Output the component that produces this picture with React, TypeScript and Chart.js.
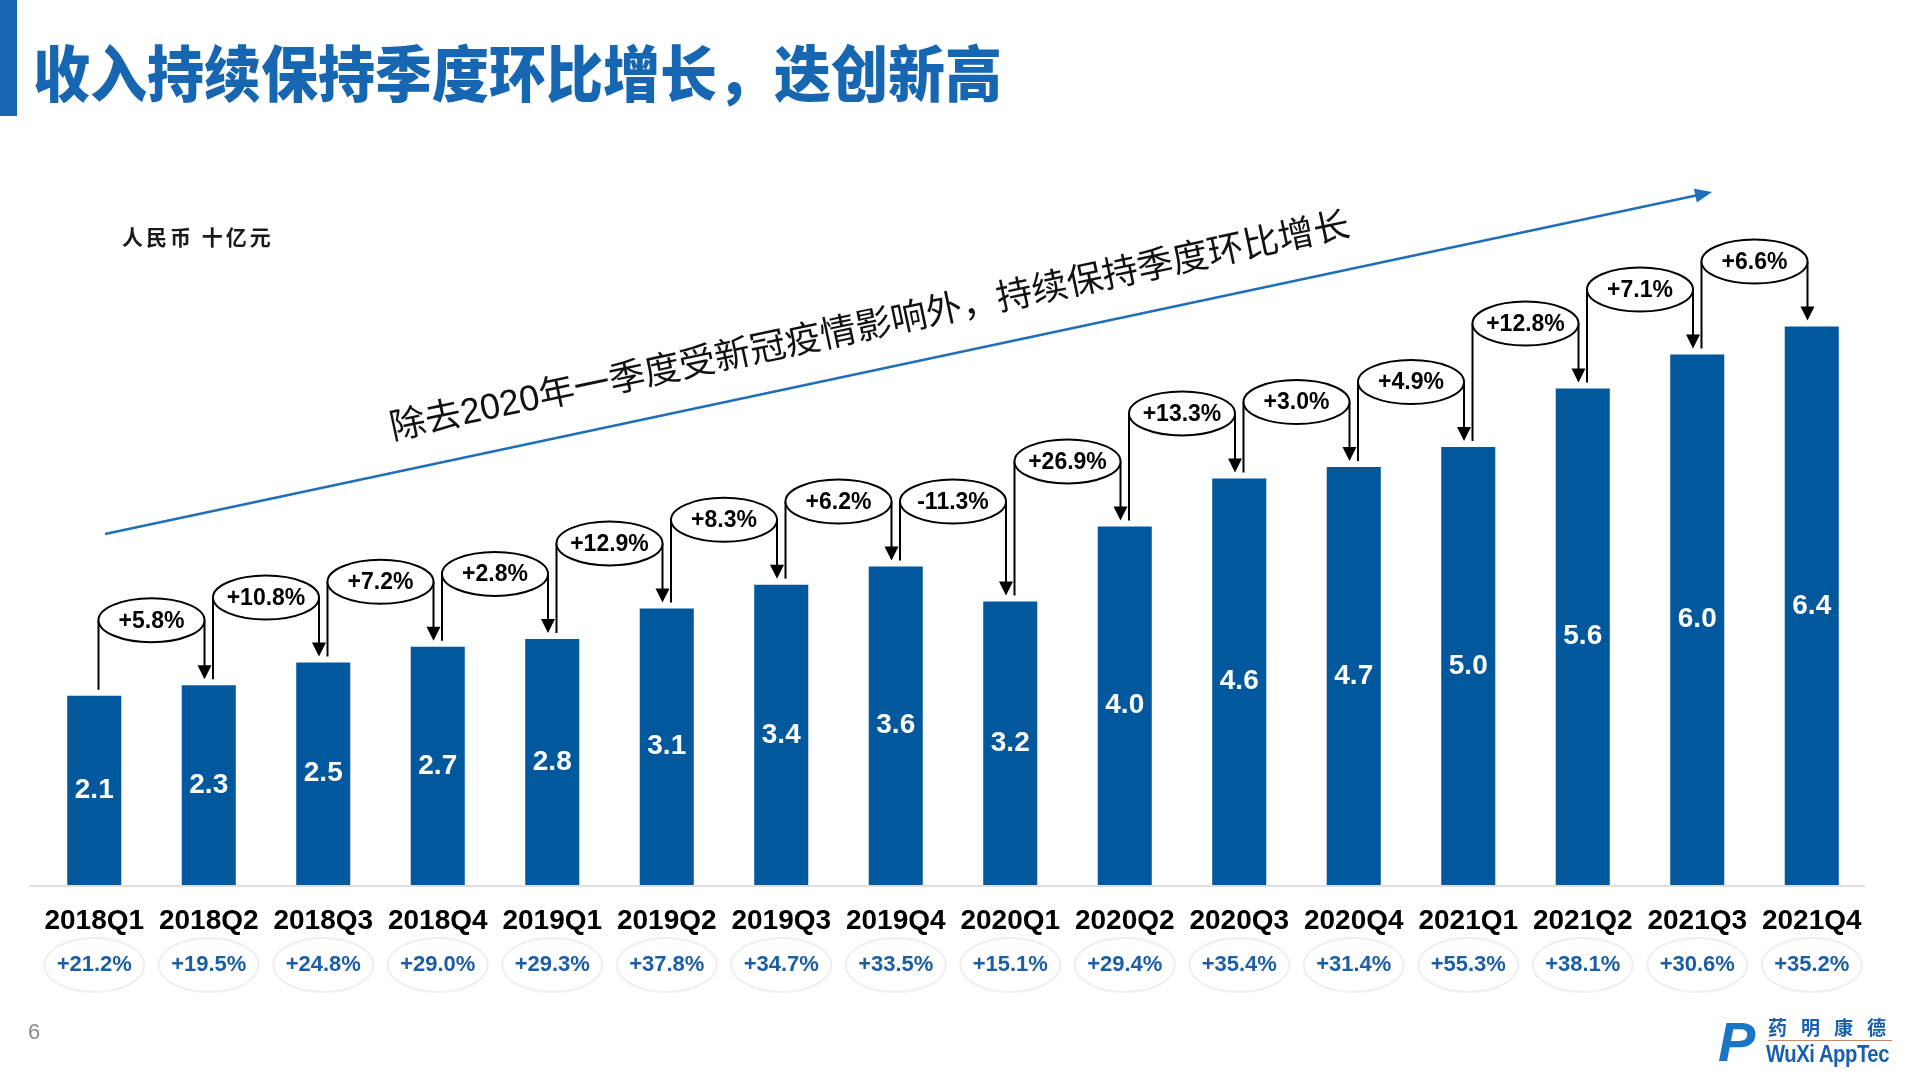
import React, { useEffect, useRef } from 'react';
import { Chart, registerables } from 'chart.js';

Chart.register(...registerables);

// ---- data ----
const categories = [
  '2018Q1', '2018Q2', '2018Q3', '2018Q4',
  '2019Q1', '2019Q2', '2019Q3', '2019Q4',
  '2020Q1', '2020Q2', '2020Q3', '2020Q4',
  '2021Q1', '2021Q2', '2021Q3', '2021Q4',
];
// revenue, RMB bn (bar heights)
const revenue = [2.17, 2.29, 2.55, 2.73, 2.82, 3.17, 3.44, 3.65, 3.25, 4.11, 4.66, 4.79, 5.02, 5.69, 6.08, 6.4];
// labels printed inside the bars
const revenueLabels = ['2.1', '2.3', '2.5', '2.7', '2.8', '3.1', '3.4', '3.6', '3.2', '4.0', '4.6', '4.7', '5.0', '5.6', '6.0', '6.4'];
// quarter-on-quarter growth between consecutive bars
const qoqGrowth = ['+5.8%', '+10.8%', '+7.2%', '+2.8%', '+12.9%', '+8.3%', '+6.2%', '-11.3%', '+26.9%', '+13.3%', '+3.0%', '+4.9%', '+12.8%', '+7.1%', '+6.6%'];
// year-on-year growth under each quarter
const yoyGrowth = ['+21.2%', '+19.5%', '+24.8%', '+29.0%', '+29.3%', '+37.8%', '+34.7%', '+33.5%', '+15.1%', '+29.4%', '+35.4%', '+31.4%', '+55.3%', '+38.1%', '+30.6%', '+35.2%'];

const title = '收入持续保持季度环比增长，迭创新高';
const unitLabel = '人民币 十亿元';
const trendText = '除去2020年一季度受新冠疫情影响外，持续保持季度环比增长';

const BAR_COLOR = '#02589c';
const TITLE_COLOR = '#1666b2';
const YOY_COLOR = '#1b5ea6';
const LATIN = '"Liberation Sans", Arial, "Noto Sans CJK SC", sans-serif';

const annotationPlugin = {
  id: 'annotations',
  beforeDatasetsDraw(chart: any) {
    const { ctx, chartArea } = chart;
    ctx.save();
    ctx.strokeStyle = '#dedede';
    ctx.lineWidth = 2;
    ctx.beginPath();
    ctx.moveTo(chartArea.left - 8, chartArea.bottom + 1);
    ctx.lineTo(chartArea.right - 4, chartArea.bottom + 1);
    ctx.stroke();
    ctx.restore();
  },
  afterDatasetsDraw(chart: any) {
    const { ctx, chartArea } = chart;
    const meta = chart.getDatasetMeta(0);
    ctx.save();

    // values inside bars, category labels, yoy ellipses
    meta.data.forEach((bar: any, i: number) => {
      const { x, y, base } = bar.getProps(['x', 'y', 'base'], true);
      ctx.textAlign = 'center';
      ctx.textBaseline = 'middle';
      ctx.fillStyle = '#ffffff';
      ctx.font = `bold 28px ${LATIN}`;
      ctx.fillText(revenueLabels[i], x, (y + base) / 2);

      ctx.fillStyle = '#000000';
      ctx.font = `bold 28px ${LATIN}`;
      ctx.fillText(categories[i], x, chartArea.bottom + 36);

      const ey = chartArea.bottom + 80;
      ctx.beginPath();
      ctx.ellipse(x, ey, 50, 27, 0, 0, Math.PI * 2);
      ctx.strokeStyle = '#efefef';
      ctx.lineWidth = 2;
      ctx.stroke();
      ctx.fillStyle = YOY_COLOR;
      ctx.font = `bold 22px ${LATIN}`;
      ctx.fillText(yoyGrowth[i], x, ey);
    });

    // quarter-on-quarter bubbles with connectors
    for (let i = 0; i < qoqGrowth.length; i++) {
      const b0 = meta.data[i];
      const b1 = meta.data[i + 1];
      const cx = (b0.x + b1.x) / 2;
      const cy = Math.min(b0.y, b1.y) - 65;
      const rx = 53;
      const ry = 22;
      const lx = cx - rx;
      const rxx = cx + rx;
      const tipY = b1.y - 6;
      ctx.strokeStyle = '#000000';
      ctx.lineWidth = 2;
      ctx.beginPath();
      ctx.moveTo(lx, cy);
      ctx.lineTo(lx, b0.y - 6);
      ctx.moveTo(rxx, cy);
      ctx.lineTo(rxx, tipY - 10);
      ctx.stroke();
      ctx.fillStyle = '#000000';
      ctx.beginPath();
      ctx.moveTo(rxx - 7, tipY - 14);
      ctx.lineTo(rxx + 7, tipY - 14);
      ctx.lineTo(rxx, tipY);
      ctx.closePath();
      ctx.fill();

      ctx.beginPath();
      ctx.ellipse(cx, cy, rx, ry, 0, 0, Math.PI * 2);
      ctx.fillStyle = '#ffffff';
      ctx.fill();
      ctx.stroke();
      ctx.fillStyle = '#000000';
      ctx.font = `bold 23px ${LATIN}`;
      ctx.textAlign = 'center';
      ctx.textBaseline = 'middle';
      ctx.fillText(qoqGrowth[i], cx, cy + 1);
    }

    // trend arrow
    const x0 = 105, y0 = 534, x1 = 1712, y1 = 192;
    const ang = Math.atan2(y1 - y0, x1 - x0);
    ctx.strokeStyle = '#1f6fb8';
    ctx.fillStyle = '#1f6fb8';
    ctx.lineWidth = 2.5;
    ctx.beginPath();
    ctx.moveTo(x0, y0);
    ctx.lineTo(x1 - 14 * Math.cos(ang), y1 - 14 * Math.sin(ang));
    ctx.stroke();
    ctx.save();
    ctx.translate(x1, y1);
    ctx.rotate(ang);
    ctx.beginPath();
    ctx.moveTo(0, 0);
    ctx.lineTo(-17, -7);
    ctx.lineTo(-17, 7);
    ctx.closePath();
    ctx.fill();
    ctx.restore();

    // rotated trend text
    ctx.save();
    ctx.translate(870, 328);
    ctx.rotate(ang);
    ctx.fillStyle = '#111111';
    ctx.font = `36px "Liberation Sans", "Noto Sans CJK SC", sans-serif`;
    ctx.textAlign = 'center';
    ctx.textBaseline = 'middle';
    ctx.fillText(trendText, 0, 0);
    ctx.restore();

    ctx.restore();
  },
};

export default function App() {
  const canvasRef = useRef<HTMLCanvasElement | null>(null);

  useEffect(() => {
    if (!canvasRef.current) return;
    const chart = new Chart(canvasRef.current, {
      type: 'bar',
      data: {
        labels: categories,
        datasets: [
          {
            data: revenue,
            backgroundColor: BAR_COLOR,
            barPercentage: 0.472,
            categoryPercentage: 1,
          },
        ],
      },
      options: {
        animation: false,
        responsive: false,
        devicePixelRatio: 1,
        layout: { padding: { left: 37, right: 51, top: 187, bottom: 193 } },
        plugins: { legend: { display: false }, tooltip: { enabled: false } },
        scales: {
          x: { display: false },
          y: { display: false, min: 0, max: 8 },
        },
      },
      plugins: [annotationPlugin],
    });
    return () => chart.destroy();
  }, []);

  return (
    <div style={{ position: 'fixed', left: 0, top: 0, width: 1920, height: 1078, background: '#ffffff', overflow: 'hidden' }}>
      <canvas ref={canvasRef} width={1920} height={1078} style={{ position: 'absolute', left: 0, top: 0 }} />
      <div style={{ position: 'absolute', left: 0, top: 0, width: 17, height: 116, background: TITLE_COLOR }} />
      <div
        style={{
          position: 'absolute', left: 33, top: 38, fontFamily: '"Noto Sans CJK SC", sans-serif',
          fontWeight: 900, fontSize: 57, lineHeight: '64px', color: TITLE_COLOR, whiteSpace: 'nowrap',
          transform: 'scaleY(1.08)', transformOrigin: 'left center',
        }}
      >
        {title}
      </div>
      <div
        style={{
          position: 'absolute', left: 122, top: 222, fontFamily: '"Noto Sans CJK SC", sans-serif',
          fontWeight: 700, fontSize: 21, lineHeight: '28px', color: '#1a1a1a', whiteSpace: 'pre',
          letterSpacing: 3,
        }}
      >
        {unitLabel}
      </div>
      <div
        style={{
          position: 'absolute', left: 28, top: 1018, fontFamily: LATIN, fontSize: 22,
          lineHeight: '28px', color: '#8a8a8a',
        }}
      >
        6
      </div>
      <div style={{ position: 'absolute', left: 1718, top: 1012, width: 190, height: 60 }}>
        <div
          style={{
            position: 'absolute', left: 0, top: 0, fontFamily: LATIN, fontWeight: 900, fontStyle: 'italic',
            fontSize: 56, lineHeight: '60px', color: '#1a75c4',
          }}
        >
          P
        </div>
        <div
          style={{
            position: 'absolute', left: 50, top: 4, fontFamily: '"Noto Sans CJK SC", sans-serif', fontWeight: 700,
            fontSize: 19, lineHeight: '22px', color: '#1a5fae', letterSpacing: 14, whiteSpace: 'nowrap',
          }}
        >
          药明康德
        </div>
        <div style={{ position: 'absolute', left: 50, top: 28, width: 124, height: 1, background: '#c98a6a' }} />
        <div
          style={{
            position: 'absolute', left: 48, top: 29, fontFamily: LATIN, fontWeight: 900,
            fontSize: 23, lineHeight: '26px', color: '#1a5fae', whiteSpace: 'nowrap',
            transform: 'scaleX(0.88)', transformOrigin: 'left center', letterSpacing: -0.5,
          }}
        >
          WuXi AppTec
        </div>
      </div>
    </div>
  );
}
